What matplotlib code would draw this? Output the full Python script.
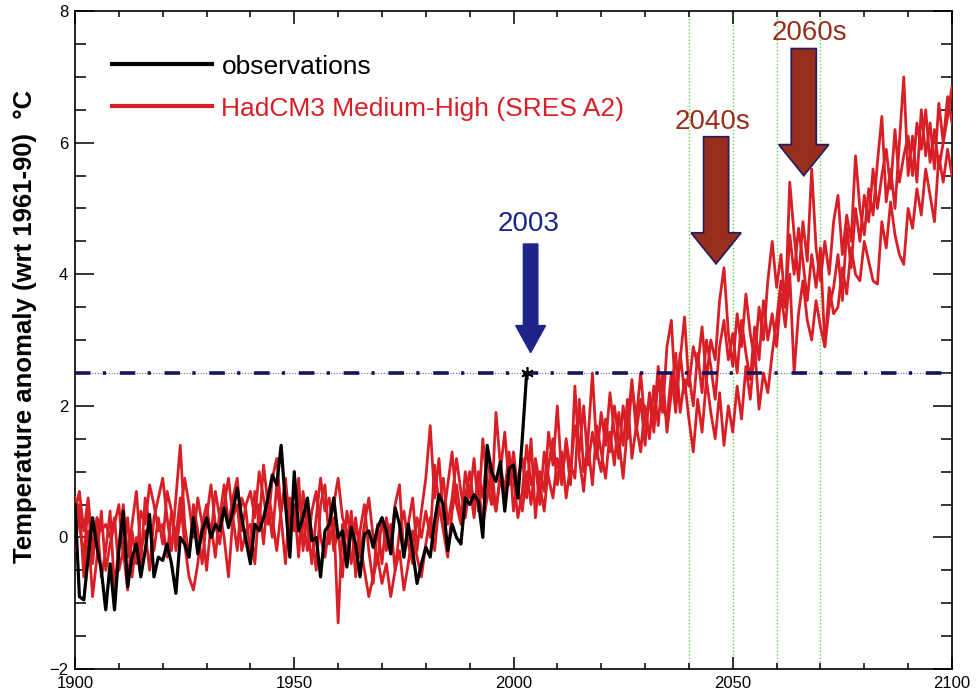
import numpy as np
import matplotlib
matplotlib.use("Agg")
import matplotlib.pyplot as plt
from matplotlib.patches import FancyArrow
from matplotlib.ticker import MultipleLocator

plt.rcParams['font.family'] = ['Liberation Sans', 'DejaVu Sans']

# observed anomalies, 1900-2003
obs_years = np.arange(1900, 2004)
obs = [0.5, -0.9, -0.95, -0.3, 0.3, -0.15, -0.5, -1.1, -0.4, -1.1,
       -0.2, 0.4, -0.75, -0.3, -0.1, -0.6, -0.2, 0.35, -0.6, -0.3,
       -0.35, -0.1, -0.4, -0.85, 0.0, -0.1, -0.3, 0.3, -0.25, 0.1,
       0.3, 0.0, 0.2, 0.1, 0.45, 0.15, 0.4, 0.75, 0.3, -0.05,
       -0.4, 0.2, 0.1, 0.3, 0.6, 0.95, 0.8, 1.4, 0.5, -0.3,
       1.0, 0.1, 0.3, 0.6, -0.05, 0.0, -0.6, 0.1, 0.2, 0.6,
       0.0, 0.1, -0.45, 0.15, -0.1, -0.6, 0.05, 0.1, -0.15, 0.15,
       0.3, 0.1, -0.25, 0.45, 0.2, -0.3, 0.2, -0.2, -0.7, -0.4,
       -0.15, -0.3, 0.25, 0.65, 0.5, -0.2, 0.2, 0.0, -0.1, 0.6,
       0.5, 0.65, 0.55, 0.0, 1.4, 1.0, 0.85, 1.15, 0.4, 1.05,
       1.1, 0.6, 1.5, 2.5]

# HadCM3 medium-high (SRES A2) members, 1900-2100
model_years = np.arange(1900, 2101)
member_a = [0.6, 0.2, -0.3, 0.5, -0.4, 0.3, -0.6, -0.2, 0.4, -0.8,
            -0.1, 0.5, -0.3, 0.2, 0.7, -0.2, 0.1, -0.5, 0.3, 0.6,
            0.9, 0.3, -0.2, 0.6, 1.4, 0.2, -0.3, 0.5, 0.1, -0.4,
            0.3, 0.8, 0.2, -0.1, 0.5, 0.9, 0.3, -0.2, 0.6, 0.4,
            -0.3, 0.7, 0.2, 1.1, 0.5, 0.0, 0.8, 0.3, -0.4, 0.6,
            0.2, 0.9, -0.2, 0.4, 0.1, -0.5, 0.5, 0.8, -0.1, 0.3,
            -1.3, 0.2, -0.3, 0.4, -0.6, 0.1, 0.5, -0.2, -0.7, 0.2,
            -0.4, 0.3, -0.1, 0.5, 0.8, -0.3, 0.2, 0.6, -0.2, 0.4,
            0.9, 1.7, 0.6, 1.2, 0.3, 0.8, 1.3, 0.5, 0.2, 1.0,
            0.6, 1.2, 0.4, 1.5, 0.8, 0.5, 1.9, 1.1, 0.7, 1.3,
            0.4, 0.9, 1.2, 0.6, 1.5, 0.3, 1.0, 0.7, 1.6, 1.1,
            2.0, 0.9, 1.4, 0.8, 2.3, 1.2, 0.7, 1.5, 2.5, 1.3,
            1.0, 1.8, 1.3, 2.0, 1.5, 0.9, 1.7, 2.4, 1.6, 2.1,
            1.4, 2.2, 1.8, 2.6, 1.9, 2.9, 3.3, 2.1, 2.7, 3.35,
            2.3, 2.9, 2.6, 3.2, 2.4, 3.0, 2.7, 3.6, 4.1, 3.1,
            2.6, 3.4, 2.9, 3.7, 3.1, 2.7, 3.5, 3.0, 3.9, 4.5,
            3.8, 4.3, 3.5, 5.4, 4.6, 3.9, 4.8, 4.2, 5.6, 4.4,
            3.9, 4.5, 4.0, 4.8, 5.2, 4.3, 4.9, 4.5, 5.8, 5.0,
            4.6, 5.3, 4.9, 5.7, 6.4, 5.1, 5.6, 5.0, 6.0, 7.0,
            5.5, 6.1, 5.4, 6.5, 5.8, 6.3, 5.6, 6.6, 6.0, 6.4, 6.85]
member_b = [0.4, 0.7, 0.1, 0.6, -0.2, 0.3, 0.1, 0.2, 0.0, 0.3,
            -0.5, -0.2, -0.8, 0.1, -0.4, 0.4, 0.2, 0.8, 0.5, 0.1,
            0.2, -0.3, 0.4, 0.0, 0.6, -0.1, -0.6, -0.8, -0.4, 0.2,
            0.5, 0.0, 0.7, 0.3, 0.8, 0.2, 0.6, 0.9, 0.1, 0.5,
            0.7, 0.3, 1.0, 0.6, 0.2, 0.9, 1.2, 0.4, 0.8, 0.3,
            0.1, 0.6, 0.3, -0.2, 0.4, 0.7, 0.0, -0.3, 0.2, 0.5,
            0.9, 0.3, 0.1, -0.4, 0.2, -0.1, -0.5, -0.9, -0.6, -0.3,
            -0.7, -0.4, -0.9, -0.5, -0.2, -0.8, -0.4, 0.1, -0.3, -0.6,
            -0.1, 0.3, -0.2, 0.5, 0.1, -0.3, 0.4, 0.8, 0.3, 0.6,
            1.0, 0.5, 0.8, 0.2, 0.6, 1.1, 0.4, 0.9, 0.6, 1.2,
            0.9, 0.3, 0.7, 1.4, 0.8, 1.1, 0.5, 1.3, 0.9, 0.6,
            1.2, 0.8, 1.5, 1.0, 1.7, 1.3, 2.0, 1.1, 1.6, 1.2,
            1.9, 1.4, 2.2, 1.6, 1.2, 2.0, 1.5, 2.3, 1.8, 2.5,
            1.7, 2.1, 1.6, 2.4, 2.0, 1.8, 2.5, 1.9, 2.8, 2.2,
            2.5, 2.0, 2.8, 2.2, 3.0, 2.6, 2.1, 2.9, 3.3, 2.7,
            3.1, 2.5, 3.3, 2.8, 2.4, 3.2, 2.7, 3.6, 3.0, 3.4,
            2.9, 3.7, 3.2, 4.0, 2.5, 3.4, 3.9, 3.3, 3.0, 3.6,
            3.2, 2.9, 3.8, 3.4, 3.5, 4.1, 3.7, 4.4, 4.0, 3.9,
            4.5, 4.2, 3.9, 3.85, 4.8, 4.4, 5.1, 4.6, 4.3, 4.15,
            5.0, 4.7, 5.3, 4.9, 5.6, 5.2, 4.8, 5.8, 5.4, 5.9, 5.5]
member_c = [-0.2, 0.5, -0.6, 0.1, -0.9, -0.3, 0.4, -0.5, -0.1, 0.2,
            0.5, -0.3, 0.3, -0.6, 0.0, -0.4, 0.6, 0.2, -0.2, 0.3,
            -0.1, 0.7, 0.4, -0.2, 0.3, 0.9, 0.5, 0.0, 0.6, 0.2,
            -0.5, 0.2, -0.3, 0.4, 0.0, -0.6, 0.3, 0.5, -0.2, 0.1,
            0.2, -0.4, 0.5, -0.1, 0.7, 0.3, -0.2, 0.4, 0.9, 0.1,
            0.5, -0.3, 0.7, 0.2, -0.4, 0.3, 0.9, 0.4, 0.6, -0.2,
            0.1, -0.6, 0.4, 0.0, 0.3, -0.3, 0.2, 0.6, 0.0, -0.4,
            0.3, -0.2, 0.2, -0.5, 0.1, 0.4, -0.1, -0.4, 0.3, 0.0,
            0.4, 0.0, 1.1, 0.5, 0.9, 0.2, 0.6, 1.2, 0.7, 0.3,
            0.8, 0.3, 1.0, 0.6, 1.3, 0.7, 0.4, 1.0, 1.6, 0.8,
            1.3, 0.7, 0.4, 1.0, 0.5, 1.2, 0.8, 0.4, 1.1, 1.5,
            0.8, 1.3, 0.6, 1.1, 0.9, 2.1, 1.0, 1.4, 0.8, 1.7,
            1.3, 0.9, 1.6, 1.1, 1.9, 1.4, 2.1, 1.2, 1.7, 1.3,
            2.0, 1.5, 2.3, 1.7, 2.5, 1.6, 2.2, 2.8, 1.9, 2.4,
            1.8, 1.3, 2.1, 1.6, 2.4, 1.9, 1.5, 2.2, 1.4, 2.0,
            1.6, 2.3, 1.8, 2.6, 2.1, 2.9, 1.95, 2.5, 2.2, 2.8,
            3.3, 3.9, 3.5, 4.6, 4.0, 4.7, 4.2, 3.6, 4.3, 3.8,
            4.4, 2.9, 3.5, 3.8, 4.3, 3.6, 4.7, 4.1, 5.0, 4.5,
            5.2, 4.8, 5.6, 5.0, 5.5, 5.9, 5.3, 6.2, 5.4, 5.8,
            6.1, 5.5, 6.3, 5.9, 6.5, 5.7, 6.2, 5.6, 6.0, 6.7, 6.3]

threshold = 2.5            # 2003 anomaly level
event_year = 2003
decade_bounds = [2040, 2050, 2060, 2070]

red = '#d81f26'
navy = '#1c2487'
brown = '#9a2e1c'

fig = plt.figure(figsize=(9.77, 6.94), dpi=100)
ax = fig.add_axes([0.0768, 0.036, 0.8976, 0.948])

for d in decade_bounds:
    ax.axvline(d, color='#5ed84a', lw=1.0, ls=(0, (1, 1.5)), zorder=1)

# horizontal threshold line: thin dotted base + thick dash-dot
ax.axhline(threshold, color='#6a6a9a', lw=0.8, ls=(0, (1, 1.5)), zorder=2)
ax.axhline(threshold, color='#14145c', lw=2.6, ls=(0, (4.3, 3.4, 0.9, 3.8)),
           solid_capstyle='butt', dash_capstyle='butt', zorder=5)

l_red = None
for m in [member_a, member_b, member_c]:
    l_red, = ax.plot(model_years, m, color=red, lw=2.0, zorder=3)
l_obs, = ax.plot(obs_years, obs, color='black', lw=2.3, zorder=4)
ax.plot([event_year], [threshold], marker=(6, 2, 0), color='black', ms=9, mew=1.2, zorder=6)

# arrows
ax.add_patch(FancyArrow(2003.9, 4.46, 0, 2.81 - 4.46, width=3.3, head_width=6.8,
                        head_length=0.41, length_includes_head=True,
                        facecolor=navy, edgecolor=navy, lw=1, zorder=7))
ax.text(2003.4, 4.77, '2003', color=navy, fontsize=20, ha='center', va='center')
for xc, top, tip, lbl_x, lbl_y, lbl in [(2046.2, 6.09, 4.16, 2045.3, 6.31, '2040s'),
                                        (2066.2, 7.43, 5.50, 2067.4, 7.66, '2060s')]:
    ax.add_patch(FancyArrow(xc, top, 0, tip - top, width=5.7, head_width=11.4,
                            head_length=0.47, length_includes_head=True,
                            facecolor=brown, edgecolor='#2a1d5c', lw=1.3, zorder=7))
    ax.text(lbl_x, lbl_y, lbl, color=brown, fontsize=20, ha='center', va='center')

ax.set_xlim(1900, 2100)
ax.set_ylim(-2, 8)
ax.xaxis.set_major_locator(MultipleLocator(50))
ax.xaxis.set_minor_locator(MultipleLocator(10))
ax.yaxis.set_major_locator(MultipleLocator(2))
ax.yaxis.set_minor_locator(MultipleLocator(0.5))
ax.tick_params(axis='both', which='both', direction='in', top=True, right=True,
               width=1.1, labelsize=12)
ax.tick_params(axis='x', which='major', length=9, pad=5)
ax.tick_params(axis='x', which='minor', length=4.5)
ax.tick_params(axis='y', which='major', length=14, pad=5)
ax.tick_params(axis='y', which='minor', length=8)
for s in ax.spines.values():
    s.set_linewidth(1.2)

fig.text(25 / 977, 1 - 326 / 694, 'Temperature anomaly (wrt 1961-90)  \u00b0C',
         rotation=90, ha='center', va='center', fontsize=18.5, fontweight='bold')

leg = ax.legend([l_obs, l_red], ['observations', 'HadCM3 Medium-High (SRES A2)'],
                loc='upper left', bbox_to_anchor=(0.042, 0.934), frameon=False,
                fontsize=19, handlelength=3.8, handletextpad=0.35,
                labelspacing=0.69, borderpad=0, borderaxespad=0)
leg.get_lines()[0].set_linewidth(3)
leg.get_lines()[1].set_linewidth(3)
leg.get_texts()[1].set_color(red)

fig.savefig('out.png', dpi=100)
